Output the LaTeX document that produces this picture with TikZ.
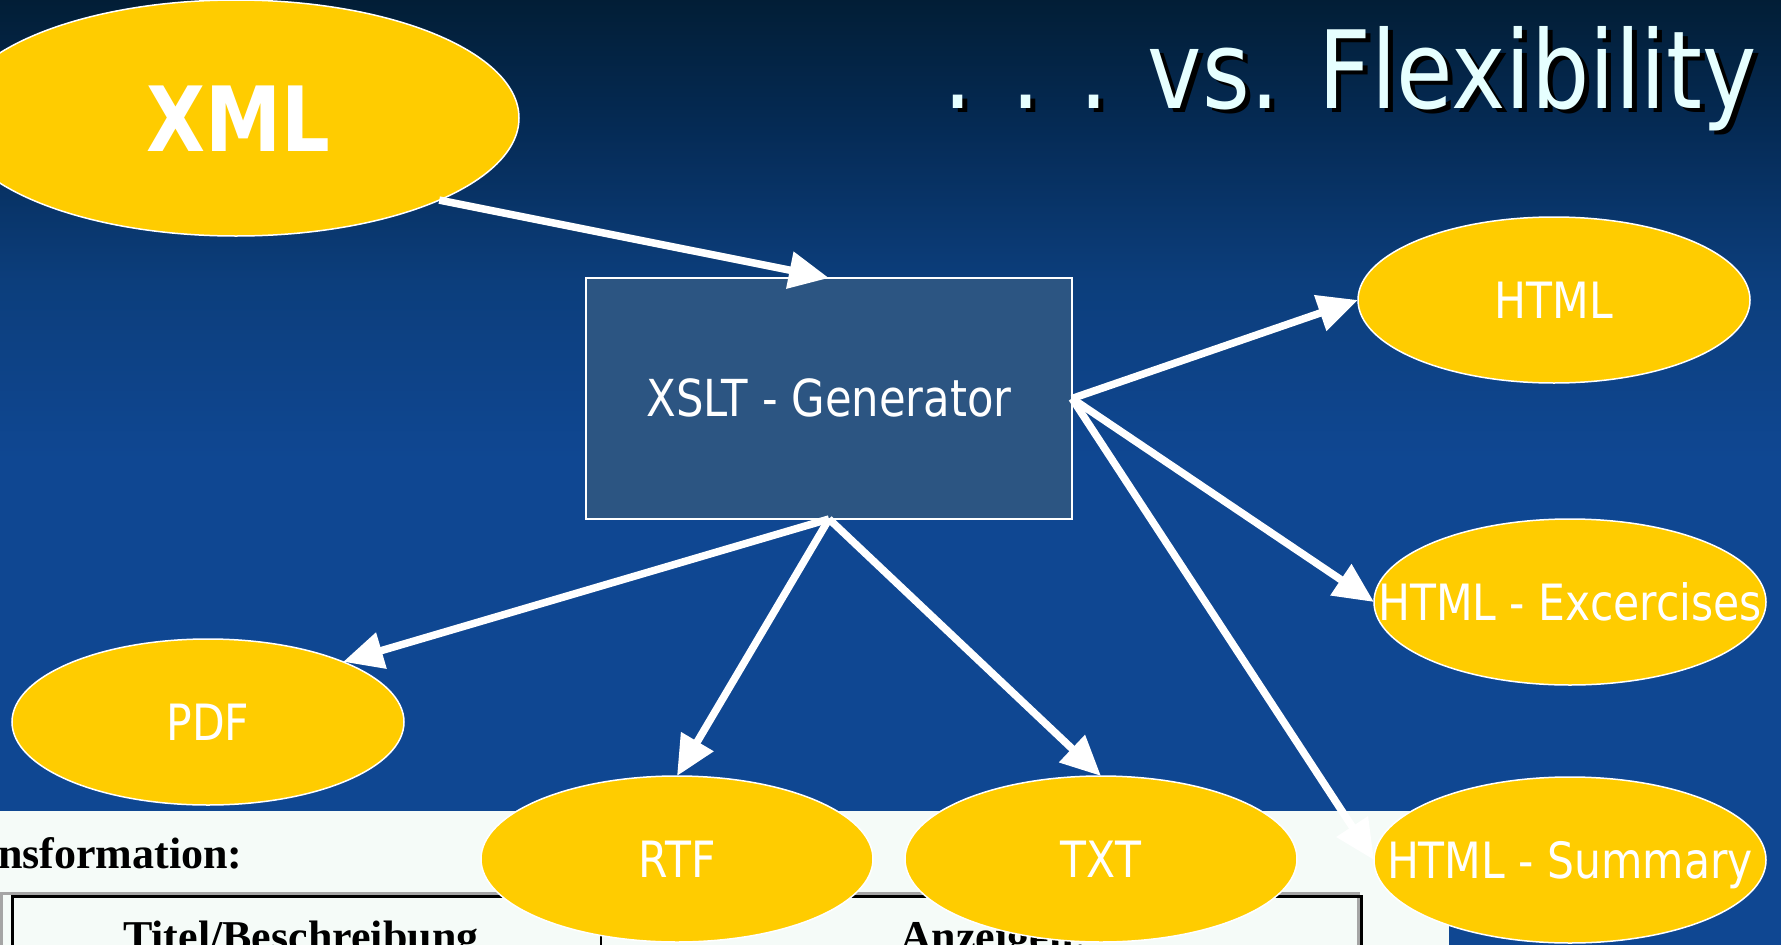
\documentclass[tikz,border=0pt]{standalone}
\usepackage{fontspec}
\usetikzlibrary{arrows.meta,shapes.geometric}
\newfontfamily\tahfont[FakeStretch=0.85]{DejaVu Sans}
\newfontfamily\tmsfont{Liberation Serif}
\definecolor{bgA}{RGB}{2,30,54}
\definecolor{bgB}{RGB}{5,43,86}
\definecolor{bgC}{RGB}{12,62,124}
\definecolor{bgD}{RGB}{15,71,146}
\definecolor{ovalfill}{RGB}{255,204,0}
\definecolor{boxfill}{RGB}{44,85,130}
\definecolor{titlecol}{RGB}{230,255,255}
\definecolor{panelcol}{RGB}{245,251,248}
\definecolor{framegray}{RGB}{165,165,165}
\begin{document}
\begin{tikzpicture}[x=1pt,y=-1pt,
  oval/.style={ellipse, fill=ovalfill, draw=white, line width=1.5pt,
    minimum width=392pt, minimum height=166pt, inner sep=0pt, outer sep=0pt},
  ovaltext/.style={text=white, font=\tahfont\fontsize{50}{54}\selectfont,
    text height=36pt, text depth=0pt, inner sep=0pt},
  genbox/.style={rectangle, fill=boxfill, draw=white, line width=1.5pt,
    minimum width=486pt, minimum height=241pt, inner sep=0pt, outer sep=0pt,
    text=white, font=\tahfont\fontsize{51}{54}\selectfont, text height=36pt, text depth=0pt},
  conn/.style={draw=white, line width=7.5pt, -{Triangle[length=40pt,width=36pt]}},
  shot/.style={text=black, font=\tmsfont\bfseries\fontsize{44}{48}\selectfont,
    inner sep=0pt, anchor=base west},
  titletext/.style={font=\tahfont\fontsize{108}{110}\selectfont, inner sep=0pt, anchor=base}
]
\clip (0,0) rectangle (1781,945);
% background
\shade[top color=bgA, bottom color=bgB] (0,-1) rectangle (1781,132);
\shade[top color=bgB, bottom color=bgC] (0,131) rectangle (1781,281);
\shade[top color=bgC, bottom color=bgD] (0,280) rectangle (1781,460);
\fill[bgD] (0,459) rectangle (1781,946);
% screenshot panel
\fill[panelcol] (0,811) rectangle (1449,946);
\node[shot] (trf) at (-2,868) {nsformation:};
\draw[framegray, line width=3pt] (1.5,946) -- (1.5,893.5) -- (1360,893.5);
\draw[black, line width=3pt] (12.5,946) -- (12.5,896.5) -- (1361.5,896.5) -- (1361.5,946);
\draw[framegray, line width=3pt] (1358.5,898) -- (1358.5,946);
\draw[black, line width=2.5pt] (601,936) -- (601,946);
\node[shot] (tb) at (123,951) {Titel/Beschreibung};
\node[shot] (anz) at (900,951) {Anzeigen:};
% title
\node[titletext, text=black] (titleshadow) at (1355,112) {. . . vs. Flexibility};
\node[titletext, text=titlecol] (title) at (1350,108) {. . . vs. Flexibility};
% nodes
\node[oval, minimum width=566pt, minimum height=236pt] (xml) at (236,118) {};
\node[text=white, font=\tahfont\bfseries\fontsize{90}{92}\selectfont,
  text height=64pt, text depth=0pt, inner sep=0pt] (xmlt) at (238,119) {XML};
\node[genbox] (gen) at (829,398.5) {XSLT - Generator};
\node[oval] (html) at (1554,300) {};
\node[ovaltext] (htmlt) at (html) {HTML};
\node[oval] (exc) at (1570,602) {};
\node[ovaltext] (exct) at (exc) {HTML - Excercises};
\node[oval] (sum) at (1570,860) {};
\node[ovaltext] (sumt) at (sum) {HTML - Summary};
\node[oval] (pdf) at (208,722) {};
\node[ovaltext] (pdft) at (pdf) {PDF};
\node[oval] (rtf) at (677,859) {};
\node[ovaltext] (rtft) at (rtf) {RTF};
\node[oval] (txt) at (1101,859) {};
\node[ovaltext] (txtt) at (txt) {TXT};
% connectors
\draw[conn] (xml.-22.3) -- (gen.north);
\draw[conn] (gen.east) -- (html.west);
\draw[conn] (gen.east) -- (exc.west);
\draw[conn] (gen.east) -- (sum.west);
\draw[conn] (gen.south) -- (pdf.24);
\draw[conn] (gen.south) -- (rtf.north);
\draw[conn] (gen.south) -- (txt.north);
\end{tikzpicture}
\end{document}
